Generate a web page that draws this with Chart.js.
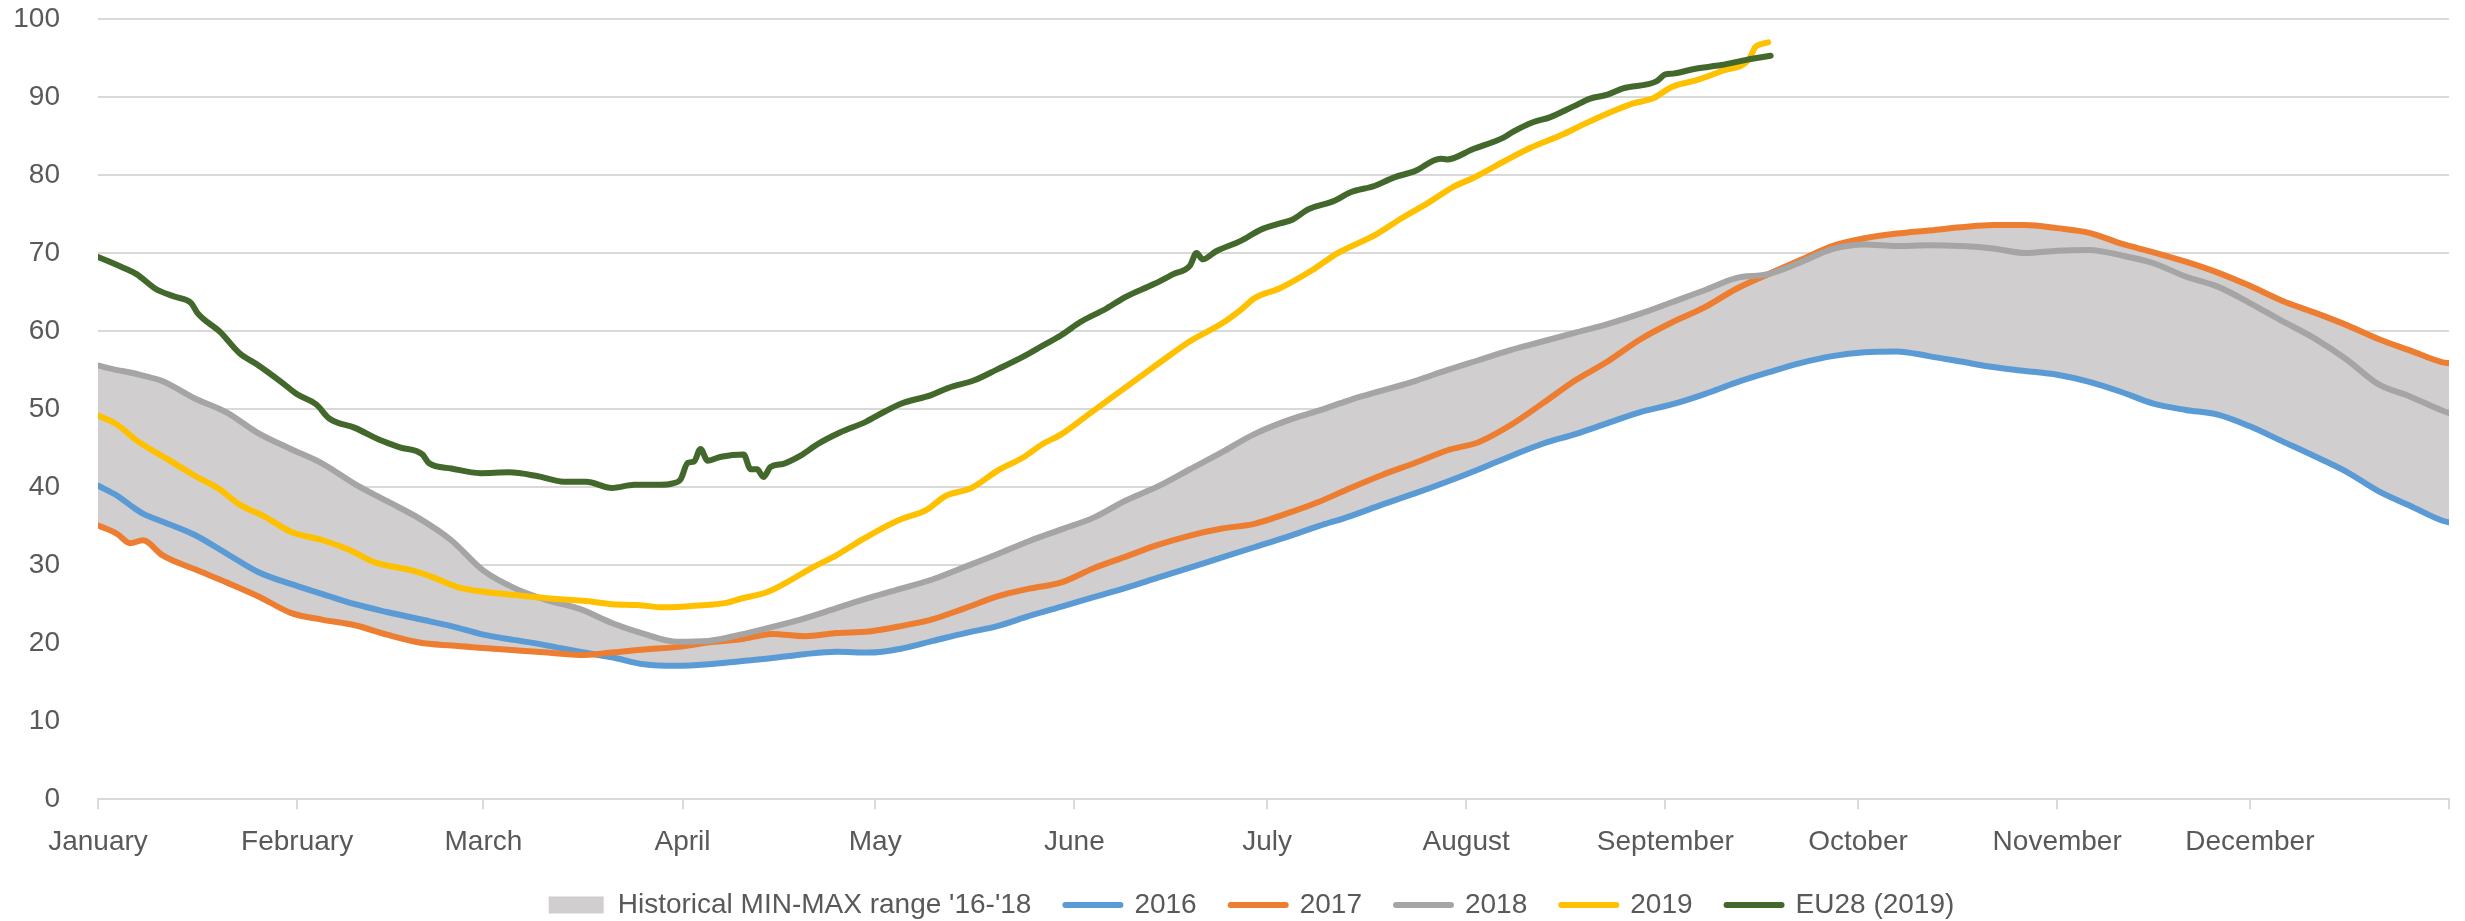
<!DOCTYPE html>
<html><head><meta charset="utf-8">
<script src="https://cdn.jsdelivr.net/npm/chart.js@4.4.1/dist/chart.umd.min.js"></script>
<style>html,body{margin:0;padding:0;background:#fff;overflow:hidden}#wrap{width:2465px;height:921px}</style>
</head><body><div id="wrap"><canvas id="c" width="2465" height="921"></canvas></div>
<script>
// ---- axis / category data ----
const monthLabels = ['January','February','March','April','May','June','July','August','September','October','November','December'];
const monthStarts = [0,31,60,91,121,152,182,213,244,274,305,335,366];

// ---- historical series (day of year -> value) ----
const histDays = [0,3,5,7,10,15,20,25,30,35,40,45,50,55,60,65,70,75,80,85,90,95,100,105,110,115,120,125,130,135,140,145,150,155,160,165,170,175,180,185,190,195,200,205,210,215,220,225,230,235,240,245,250,255,260,265,270,275,280,285,290,295,300,305,310,315,320,325,330,335,340,345,350,355,360,365,366];
const s2016 = [40.2,38.9,37.7,36.6,35.6, 33.9,31.5,29.1,27.6,26.3,25.0,24.0,23.1,22.2,21.1, 20.4,19.7,18.9,18.2,17.3,17.1,17.3,17.7,18.1,18.6, 18.9,18.8,19.3,20.3,21.3,22.2,23.5,24.7,25.9,27.1, 28.4,29.7,31.0,32.3,33.6,35.0,36.3,37.8,39.2,40.7, 42.3,44.0,45.6,46.8,48.2,49.6,50.6,51.9,53.4,54.7, 55.9,56.8,57.3,57.4,56.8,56.1,55.4,54.9,54.4,53.5, 52.2,50.7,49.9,49.3,47.8,45.9,44.0,42.0,39.5,37.6, 35.7,35.5];
const s2017 = [35.1,34.0,32.8,33.2,31.3, 29.5,27.8,26.0,23.9,23.0,22.3,21.1,20.1,19.7,19.4, 19.1,18.8,18.5,18.8,19.2,19.5,20.1,20.5,21.2,20.9, 21.3,21.5,22.2,23.1,24.5,26.0,27.0,27.8,29.6,31.1, 32.6,33.8,34.7,35.3,36.6,38.1,39.9,41.6,43.1,44.7, 45.8,48.0,50.8,53.7,56.1,58.9,61.1,63.0,65.4,67.3, 69.1,70.9,71.9,72.5,72.9,73.3,73.6,73.6,73.2,72.6, 71.2,70.1,68.9,67.5,65.8,63.9,62.4,60.8,59.0,57.5, 56.0,55.9];
const s2018 = [55.6,55.0,54.7,54.3,53.6, 51.4,49.6,46.9,44.9,43.0,40.4,38.2,36.0,33.2,29.3, 27.0,25.5,24.4,22.6,21.2,20.2,20.3,21.1,22.1,23.2, 24.5,25.8,27.0,28.2,29.8,31.4,33.1,34.6,36.1,38.3, 40.1,42.3,44.5,46.8,48.5,49.8,51.2,52.4,53.6,55.0, 56.3,57.6,58.7,59.8,60.9,62.2,63.7,65.2,66.8,67.3, 68.8,70.5,71.1,70.9,71.0,70.9,70.6,70.0,70.3,70.4, 69.7,68.7,67.0,65.7,63.6,61.3,59.1,56.4,53.2,51.6, 49.8,49.5];

// ---- 2019 ----
const days2019 = [0,3,6,11,15,19,22,26,30,35,39,43,49,52,56,61,66,71,76,80,84,88,93,98,100,104,107,111,115,119,122,125,129,132,136,140,144,147,150,154,158,162,166,170,175,178,180,184,189,193,199,203,207,211,214,219,223,228,231,235,239,242,245,249,253,257,258,259,260];
const s2019 = [49.2,48.0,46.0,43.5,41.5,39.7,37.8,36.2,34.3,33.2,32.0,30.4,29.3,28.5,27.2,26.5,26.1,25.7,25.4,25.0,24.9,24.6,24.8,25.2,25.7,26.5,27.7,29.6,31.3,33.3,34.7,35.9,37.1,38.9,39.9,42.1,43.8,45.5,46.8,49.2,51.6,54.0,56.4,58.7,61.0,62.8,64.2,65.5,67.8,70.0,72.4,74.5,76.4,78.5,79.6,81.8,83.5,85.2,86.4,87.9,89.2,89.8,91.3,92.2,93.4,94.8,96.4,96.8,97.0];

// ---- EU28 (2019) ----
const daysEU = [0,4,6,9,12,14.5,15.5,19,22,25,28.5,31,34,36,40,44,47,50.5,51.5,55,59.5,64,68.5,72.5,76,80,83.5,87.5,89.5,90.7,91.8,92.8,93.8,94.9,97,100.5,101.6,102.6,103.6,104.7,106.7,109.3,112,115.5,119.6,122.5,125,129.7,132.3,136.4,140,144.2,146.8,150,153,157,160,164.3,167.4,170,171,172,174,178,181,184,186,188.4,192.5,195,198.7,201.8,205,209,210,214,218.8,220.4,223.5,226,229.7,232.3,235,237.4,242.6,244,245.2,248.5,252.7,256.8,260.4];
const sEU = [69.5,68.1,67.3,65.4,64.4,63.6,62.3,59.9,57.2,55.6,53.5,51.9,50.6,48.8,47.6,46.0,45.1,44.2,43.1,42.4,41.8,41.9,41.4,40.7,40.7,39.9,40.3,40.3,40.5,41.0,43.1,43.3,44.9,43.4,43.9,44.2,42.3,42.3,41.3,42.6,43.0,44.0,45.5,47.0,48.4,49.7,50.7,51.8,52.7,53.7,55.1,56.8,58.0,59.5,61.2,62.9,64.4,66.0,67.3,68.4,70.0,69.2,70.2,71.6,73.0,73.8,74.3,75.6,76.7,77.8,78.6,79.7,80.5,82.1,82.0,83.3,84.8,85.6,86.8,87.4,88.8,89.8,90.3,91.1,92.0,92.9,93.0,93.6,94.1,94.8,95.3];

// ---- derived for the library ----
const pts = (xs, ys) => xs.map((x, i) => ({x: x, y: ys[i]}));
const bandMin = histDays.map((d, i) => Math.min(s2016[i], s2017[i], s2018[i]));
const bandMax = histDays.map((d, i) => Math.max(s2016[i], s2017[i], s2018[i]));

const FONT = "'Liberation Sans', Arial, sans-serif";
const TXT = '#595959';
const GRID = '#d9d9d9';
const BAND = '#d0cece';

function lineDs(label, xs, ys, color, order) {
  return {
    label: label, data: pts(xs, ys), borderColor: color, backgroundColor: color,
    borderWidth: 6, pointRadius: 0, fill: false, order: order,
    cubicInterpolationMode: 'monotone', borderCapStyle: 'round', borderJoinStyle: 'round'
  };
}

const datasets = [
  { label: '', data: pts(histDays, bandMin), fill: 'origin', backgroundColor: '#ffffff',
    borderColor: 'rgba(0,0,0,0)', borderWidth: 0, pointRadius: 0, order: 10, cubicInterpolationMode: 'monotone' },
  { label: "Historical MIN-MAX range '16-'18", key: 'band', data: pts(histDays, bandMax), fill: '-1', backgroundColor: BAND,
    borderColor: 'rgba(0,0,0,0)', borderWidth: 0, pointRadius: 0, order: 9, cubicInterpolationMode: 'monotone' },
  lineDs('2016', histDays, s2016, '#5b9bd5', 5),
  lineDs('2017', histDays, s2017, '#ed7d31', 4),
  lineDs('2018', histDays, s2018, '#a5a5a5', 3),
  lineDs('2019', days2019, s2019, '#ffc000', 2),
  lineDs('EU28 (2019)', daysEU, sEU, '#43682b', 1)
];

// shift the legend a little to the right, as in the original layout
const legendShift = {
  id: 'legendShift',
  afterLayout(chart) {
    if (chart.legend) { chart.legend.left += 16; chart.legend.right += 16; }
  }
};

new Chart(document.getElementById('c'), {
  type: 'line',
  data: { datasets: datasets },
  plugins: [legendShift],
  options: {
    responsive: false, animation: false, devicePixelRatio: 1,
    layout: { padding: { left: 12, right: 6, top: 19, bottom: -8 } },
    plugins: {
      tooltip: { enabled: false },
      legend: {
        position: 'bottom',
        labels: {
          usePointStyle: true, pointStyleWidth: 55, boxHeight: 17, padding: 34,
          color: TXT, font: { family: FONT, size: 28 },
          generateLabels: (chart) => chart.data.datasets
            .map((ds, i) => ({ ds: ds, i: i }))
            .filter(o => o.ds.label)
            .map(({ ds, i }) => ({
              text: ds.label,
              fillStyle: ds.key === 'band' ? BAND : ds.borderColor,
              strokeStyle: ds.key === 'band' ? BAND : ds.borderColor,
              lineWidth: ds.key === 'band' ? 0 : 6,
              pointStyle: ds.key === 'band' ? 'rect' : 'line',
              lineCap: 'round', hidden: false, datasetIndex: i, fontColor: TXT
            }))
        }
      }
    },
    scales: {
      x: {
        type: 'linear', min: 0, max: 366,
        afterBuildTicks: (s) => { s.ticks = monthStarts.map(v => ({ value: v })); },
        afterFit: (s) => { s.height = 57.7; },
        ticks: {
          autoSkip: false, maxRotation: 0, minRotation: 0, padding: 16, color: TXT,
          font: { family: FONT, size: 28 },
          callback: (v, i) => (monthLabels[i] !== undefined ? monthLabels[i] : '')
        },
        grid: { display: true, drawOnChartArea: false, drawTicks: true, tickLength: 10, color: GRID, lineWidth: 2 },
        border: { display: true, color: GRID, width: 2, z: 1 }
      },
      y: {
        min: 0, max: 100,
        afterFit: (s) => { s.width = 86; s.paddingTop = 0; s.paddingBottom = 0; },
        ticks: { stepSize: 10, padding: 38, color: TXT, font: { family: FONT, size: 28 } },
        grid: { color: GRID, lineWidth: 2, drawTicks: false },
        border: { display: false }
      }
    }
  }
});
</script>
</body></html>
